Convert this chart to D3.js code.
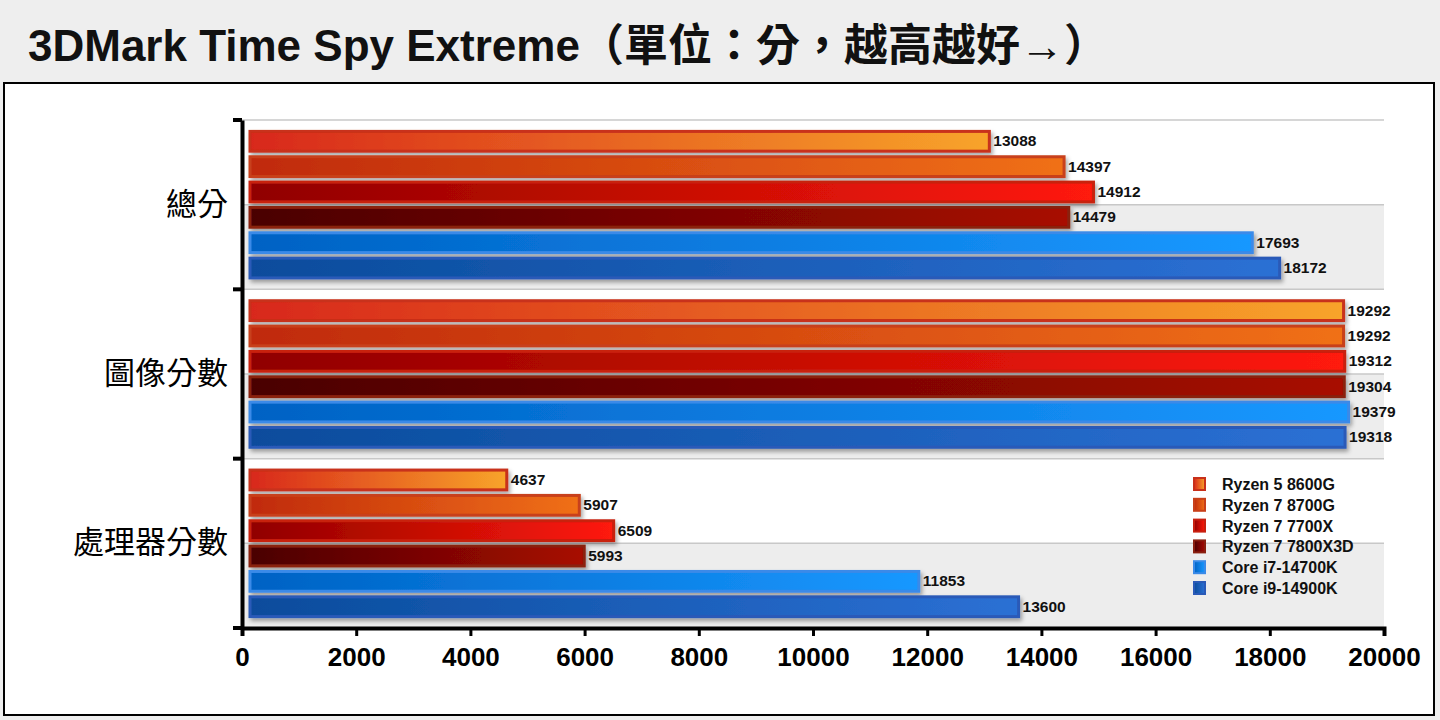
<!DOCTYPE html>
<html><head><meta charset="utf-8">
<script src="https://cdn.jsdelivr.net/npm/d3@7"></script>
<style>body{margin:0;background:#fff}svg{display:block}</style>
</head><body>
<svg id="chart" width="1440" height="720"></svg>
<script>
// data
const categories = ['總分', '圖像分數', '處理器分數'];
const seriesNames = ['Ryzen 5 8600G', 'Ryzen 7 8700G', 'Ryzen 7 7700X', 'Ryzen 7 7800X3D', 'Core i7-14700K', 'Core i9-14900K'];
const r5_8600g = [13088, 19292, 4637];
const r7_8700g = [14397, 19292, 5907];
const r7_7700x = [14912, 19312, 6509];
const r7_7800x3d = [14479, 19304, 5993];
const i7_14700k = [17693, 19379, 11853];
const i9_14900k = [18172, 19318, 13600];
const xTicks = [0, 2000, 4000, 6000, 8000, 10000, 12000, 14000, 16000, 18000, 20000];

const seriesVals = [r5_8600g, r7_8700g, r7_7700x, r7_7800x3d, i7_14700k, i9_14900k];
// [left, right, border]
const colors = [
  ['#d8281a', '#f8a42a', '#c8301a'],
  ['#c02a0a', '#f07018', '#c8401a'],
  ['#900000', '#ff1a0a', '#c82010'],
  ['#4a0000', '#a80a04', '#8a2010'],
  ['#0062c4', '#1898ff', '#3a8ae8'],
  ['#0a4c9c', '#2c70d4', '#2a5ab8']
];

const svg = d3.select('#chart');
const font = 'Arial, "Liberation Sans", "Noto Sans CJK TC", sans-serif';

// title band
svg.append('rect').attr('x', 0).attr('y', 0).attr('width', 1440).attr('height', 720).attr('fill', '#eeeeee');
svg.append('rect').attr('x', 4).attr('y', 83).attr('width', 1430).attr('height', 632)
  .attr('fill', '#fff').attr('stroke', '#000').attr('stroke-width', 2);
svg.append('text').attr('x', 28).attr('y', 61).attr('font-family', font)
  .attr('font-size', 44).attr('font-weight', 'bold').attr('fill', '#111')
  .text('3DMark Time Spy Extreme（單位：分，越高越好→）');

const m = {left: 242, right: 1384, top: 120, bottom: 628};
const x = d3.scaleLinear().domain([0, 20000]).range([m.left, m.right]);
const y = d3.scaleBand().domain(categories).range([m.top, m.bottom]);
const yi = d3.scaleBand().domain(d3.range(seriesNames.length)).range([0, y.bandwidth()]).paddingInner(0.22).paddingOuter(0.45);

const defs = svg.append('defs');
colors.forEach((c, i) => {
  const g = defs.append('linearGradient').attr('id', 'g' + i);
  g.append('stop').attr('offset', '0%').attr('stop-color', c[0]);
  g.append('stop').attr('offset', '100%').attr('stop-color', c[1]);
});
const sh = defs.append('filter').attr('id', 'shadow').attr('x', '-5%').attr('y', '-30%').attr('width', '110%').attr('height', '180%');
sh.append('feDropShadow').attr('dx', 2).attr('dy', 3).attr('stdDeviation', 2).attr('flood-color', '#000').attr('flood-opacity', 0.35);

// alternating bands + grid
categories.forEach(c => {
  svg.append('rect').attr('x', m.left).attr('y', y(c) + y.bandwidth() / 2)
    .attr('width', m.right - m.left).attr('height', y.bandwidth() / 2).attr('fill', '#ededed');
});
const gridYs = d3.range(0, 7).map(i => m.top + i * y.bandwidth() / 2);
svg.selectAll('.grid').data(gridYs).enter().append('line')
  .attr('x1', m.left).attr('x2', m.right).attr('y1', d => d).attr('y2', d => d)
  .attr('stroke', '#c8c8c8').attr('stroke-width', 1.5);

// bars
categories.forEach((c, ci) => {
  seriesVals.forEach((vals, si) => {
    const by = y(c) + yi(si);
    svg.append('rect').attr('x', x(0) + 8).attr('y', by)
      .attr('width', x(vals[ci]) - x(0) - 8).attr('height', yi.bandwidth())
      .attr('fill', `url(#g${si})`).attr('stroke', colors[si][2]).attr('stroke-width', 3)
      .attr('filter', 'url(#shadow)');
    svg.append('text').attr('x', x(vals[ci]) + 4).attr('y', by + yi.bandwidth() / 2 + 5)
      .attr('font-family', font).attr('font-size', 15.5).attr('font-weight', 'bold')
      .attr('fill', '#111').text(vals[ci]);
  });
});

// axes
const xa = svg.append('g').attr('transform', `translate(0,${m.bottom})`)
  .call(d3.axisBottom(x).tickValues(xTicks).tickSize(8).tickFormat(d3.format('d')));
xa.select('.domain').attr('stroke', '#000').attr('stroke-width', 4);
xa.selectAll('.tick line').attr('stroke', '#000').attr('stroke-width', 3);
xa.selectAll('.tick text').attr('font-family', font).attr('font-size', 26).attr('font-weight', 'bold').attr('fill', '#000').attr('dy', '1.05em');

const ya = svg.append('g').attr('transform', `translate(${m.left},0)`)
  .call(d3.axisLeft(y).tickSize(0).tickPadding(14));
ya.select('.domain').attr('stroke', '#000').attr('stroke-width', 4);
ya.selectAll('.tick text').attr('font-family', font).attr('font-size', 31).attr('fill', '#000');
svg.selectAll('.ytick').data([...categories.map(c => y(c)), m.bottom]).enter().append('line')
  .attr('x1', m.left - 9).attr('x2', m.left).attr('y1', d => d).attr('y2', d => d)
  .attr('stroke', '#000').attr('stroke-width', 4);

// legend
const lg = svg.append('g').attr('transform', 'translate(1192,484)');
seriesNames.forEach((n, i) => {
  const gy = i * 20.8;
  lg.append('rect').attr('x', 2).attr('y', gy - 6).attr('width', 11).attr('height', 12)
    .attr('fill', `url(#g${i})`).attr('stroke', colors[i][2]).attr('stroke-width', 2);
  lg.append('text').attr('x', 30).attr('y', gy + 6).attr('font-family', font)
    .attr('font-size', 16).attr('font-weight', 'bold').attr('fill', '#111').text(n);
});
</script>
</body></html>
